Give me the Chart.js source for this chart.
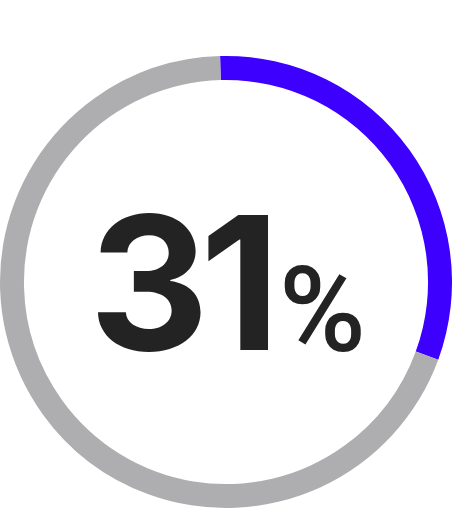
<!DOCTYPE html>
<html>
<head>
<meta charset="utf-8">
<script src="https://cdn.jsdelivr.net/npm/chart.js@4/dist/chart.umd.min.js"></script>
<style>
  html, body { margin: 0; padding: 0; background: #fff; }
  #wrap { width: 452px; height: 526px; position: relative; }
</style>
</head>
<body>
<div id="wrap"><canvas id="gauge"></canvas></div>
<script>
const etiquetas = ['Completado', 'Restante'];
const valores = [31, 69];
const colores = ['#3d00ff', '#aeaeb0'];
const textoValor = '31';
const textoSigno = '%';

const textoCentro = {
  id: 'textoCentro',
  afterDraw(chart) {
    const ctx = chart.ctx;
    const arco = chart.getDatasetMeta(0).data[0];
    const cx = arco.x, cy = arco.y;
    const base = cy + 68;
    ctx.save();
    ctx.fillStyle = '#232323';
    ctx.textBaseline = 'alphabetic';
    ctx.textAlign = 'left';
    // numero grande
    ctx.font = '700 186px Inter';
    ctx.letterSpacing = '-9px';
    let m = ctx.measureText(textoValor);
    ctx.fillText(textoValor, cx - 129 + m.actualBoundingBoxLeft, base);
    // signo de porcentaje
    ctx.font = '500 118px Roboto';
    ctx.letterSpacing = '0px';
    m = ctx.measureText(textoSigno);
    ctx.fillText(textoSigno, cx + 58 + m.actualBoundingBoxLeft, base + 1);
    ctx.restore();
  }
};

const ctx = document.getElementById('gauge').getContext('2d');
const grafico = new Chart(ctx, {
  type: 'doughnut',
  data: {
    labels: etiquetas,
    datasets: [{
      data: valores,
      backgroundColor: colores,
      borderWidth: 0
    }]
  },
  options: {
    responsive: true,
    maintainAspectRatio: false,
    animation: false,
    rotation: -1.5,
    cutout: '89.4%',
    layout: { padding: { top: 56, bottom: 18, left: 0, right: 0 } },
    plugins: {
      legend: { display: false },
      tooltip: { enabled: false }
    }
  },
  plugins: [textoCentro]
});
</script>
</body>
</html>
